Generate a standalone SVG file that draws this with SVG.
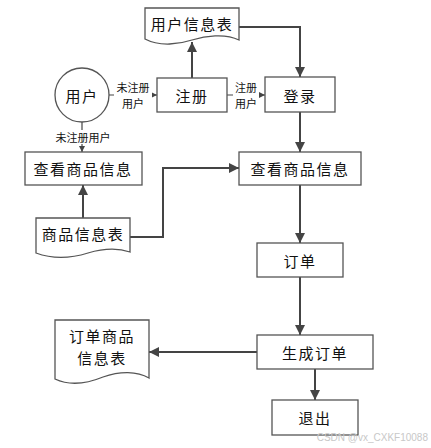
<svg xmlns="http://www.w3.org/2000/svg" width="431" height="448" viewBox="0 0 431 448">
<style>
.box{fill:#fff;stroke:#555;stroke-width:1.3}
.t{font-family:"Noto Sans CJK SC","Liberation Sans",sans-serif;font-size:15px;fill:#111;text-anchor:middle;dominant-baseline:central;letter-spacing:1.5px}
.lb{font-family:"Noto Sans CJK SC","Liberation Sans",sans-serif;font-size:11px;fill:#111;text-anchor:middle;dominant-baseline:central}
.c{fill:none;stroke:#444;stroke-width:2}
.cs{fill:none;stroke:#444;stroke-width:1.2}
.wm{font-family:"Liberation Sans",sans-serif;font-size:10px;fill:#c8c8c8;text-anchor:end}
</style>
<defs>
<marker id="a" markerUnits="userSpaceOnUse" markerWidth="11" markerHeight="11" refX="10" refY="5" orient="auto">
<path d="M0,0 L10,5 L0,10 Z" fill="#444"/>
</marker>
<marker id="s" markerUnits="userSpaceOnUse" markerWidth="7" markerHeight="7" refX="6" refY="3" orient="auto">
<path d="M0,0 L6,3 L0,6 Z" fill="#444"/>
</marker>
</defs>
<g id="connectors">
<line class="cs" x1="109" y1="95" x2="157" y2="95" marker-end="url(#s)"/>
<line class="cs" x1="82" y1="122" x2="82" y2="152" marker-end="url(#s)"/>
<line class="c" x1="192" y1="78" x2="192" y2="42" marker-end="url(#a)"/>
<polyline class="c" points="239,27 300,27 300,77" marker-end="url(#a)"/>
<line class="cs" x1="227" y1="95" x2="265" y2="95" marker-end="url(#s)"/>
<line class="c" x1="300" y1="112" x2="300" y2="152" marker-end="url(#a)"/>
<line class="c" x1="83" y1="218" x2="83" y2="185" marker-end="url(#a)"/>
<polyline class="c" points="130,237 163,237 163,168 239,168" marker-end="url(#a)"/>
<line class="c" x1="300" y1="185" x2="300" y2="243" marker-end="url(#a)"/>
<line class="c" x1="300" y1="277" x2="300" y2="335" marker-end="url(#a)"/>
<line class="c" x1="257" y1="352" x2="149" y2="352" marker-end="url(#a)"/>
<line class="c" x1="315" y1="369" x2="315" y2="400" marker-end="url(#a)"/>
<rect x="114" y="80" width="38" height="31" fill="#fff"/>
<text class="lb" x="133" y="87">未注册</text>
<text class="lb" x="133" y="103">用户</text>
<rect x="52" y="130" width="62" height="14" fill="#fff"/>
<text class="lb" x="83" y="137">未注册用户</text>
<rect x="233" y="80" width="26" height="31" fill="#fff"/>
<text class="lb" x="246" y="87">注册</text>
<text class="lb" x="246" y="103">用户</text>
</g>
<g id="user">
<circle class="box" cx="82" cy="95" r="27"/>
<text class="t" x="82" y="95">用户</text>
</g>
<g id="register">
<rect class="box" x="157" y="78" width="70" height="34"/>
<text class="t" x="192" y="95">注册</text>
</g>
<g id="userTable">
<path class="box" d="M145,8 H239 V40 C225,33 205,36 192,40 C180,44 160,47 145,39 Z"/>
<text class="t" x="192" y="23">用户信息表</text>
</g>
<g id="login">
<rect class="box" x="265" y="77" width="70" height="35"/>
<text class="t" x="300" y="95">登录</text>
</g>
<g id="viewLeft">
<rect class="box" x="25" y="152" width="117" height="33"/>
<text class="t" x="83" y="168">查看商品信息</text>
</g>
<g id="viewRight">
<rect class="box" x="239" y="152" width="122" height="33"/>
<text class="t" x="300" y="168">查看商品信息</text>
</g>
<g id="goodsTable">
<path class="box" d="M36,218 H130 V252 C118,248 105,248 88,253 C72,258 55,260 36,253 Z"/>
<text class="t" x="83" y="233">商品信息表</text>
</g>
<g id="order">
<rect class="box" x="257" y="243" width="86" height="34"/>
<text class="t" x="300" y="260">订单</text>
</g>
<g id="createOrder">
<rect class="box" x="257" y="335" width="116" height="34"/>
<text class="t" x="315" y="352">生成订单</text>
</g>
<g id="orderGoodsTable">
<path class="box" d="M55,320 H149 V378 C137,371 120,371 103,377 C86,384 70,386 55,379 Z"/>
<text class="t" x="102" y="335">订单商品</text>
<text class="t" x="102" y="357">信息表</text>
</g>
<g id="exit">
<rect class="box" x="272" y="400" width="86" height="35"/>
<text class="t" x="315" y="417">退出</text>
</g>
<text class="wm" x="428" y="441">CSDN @vx_CXKF10088</text>
</svg>
